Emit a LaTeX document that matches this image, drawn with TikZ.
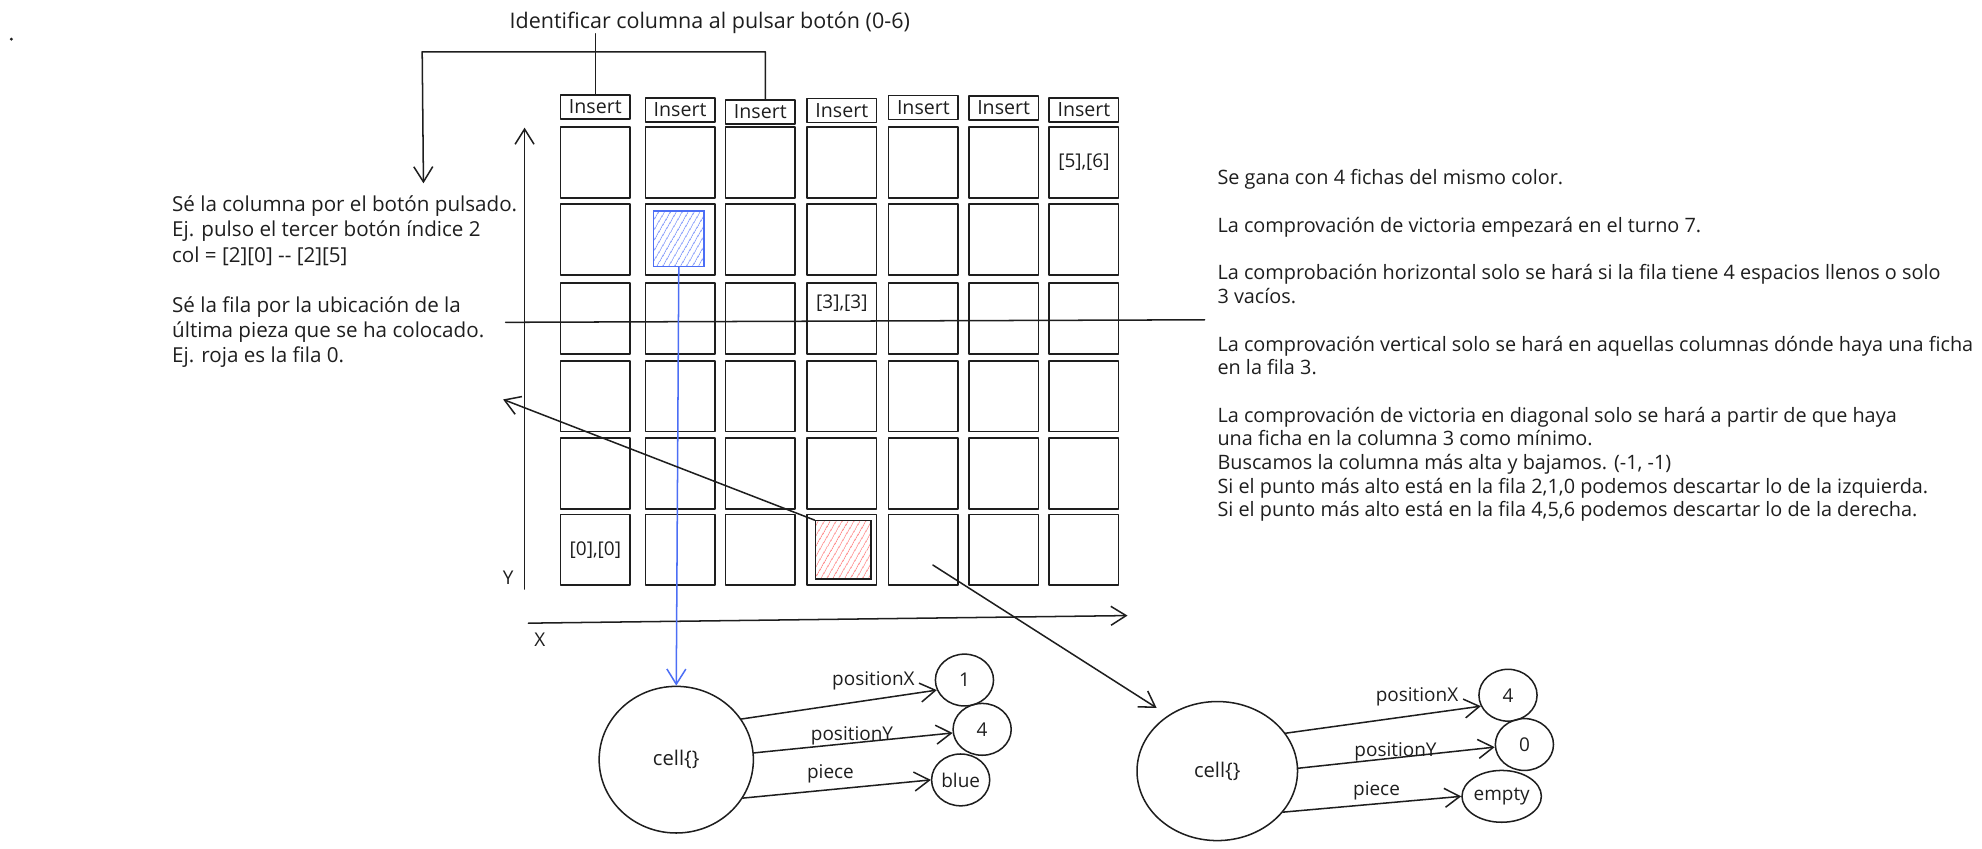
\documentclass[tikz,border=0pt]{standalone}
\usepackage{fontspec}
\setmainfont{Open Sans}
\usetikzlibrary{arrows.meta,patterns.meta,shapes.geometric}
\definecolor{ink}{HTML}{1E1E1E}
\definecolor{blueink}{HTML}{4C6EF5}
\definecolor{bluehatch}{HTML}{7D95FA}
\definecolor{redhatch}{HTML}{FF8A8A}
\begin{document}
\begin{tikzpicture}[x=1pt,y=-1pt,
  line/.style={draw=ink, line width=1.2pt, line cap=round, line join=round},
  arr/.style={line, -{Straight Barb[length=12pt,width=15pt,line width=1.2pt]}},
  cellbox/.style={line, minimum width=55pt, minimum height=56pt, inner sep=0pt},
  insbox/.style={line, minimum width=55pt, minimum height=19pt, inner sep=0pt, font=\fontsize{15.5}{16}\selectfont, text=ink},
  body/.style={font=\fontsize{15.7}{18.7}\selectfont, text=ink, inner sep=0pt, align=left},
  lbl/.style={font=\fontsize{15}{17}\selectfont, text=ink, inner sep=1pt},
  valc/.style={ellipse, line, minimum width=46pt, minimum height=41pt, inner sep=0pt, font=\fontsize{15}{17}\selectfont, text=ink},
  bigc/.style={ellipse, line, inner sep=0pt, font=\fontsize{16}{18}\selectfont, text=ink}
]
\useasboundingbox (0,0) rectangle (1568,671);

% stray dot
\fill[ink] (9,31) circle (1.3pt);

% grid and insert buttons
\foreach \x/\yy [count=\i from 0] in {471/84.5,538/87,601.5/88.5,666/87.5,730.5/85,794/85.5,857.5/87}{
  \node[insbox] (ins\i) at (\x,\yy) {Insert};
  \foreach \y [count=\j from 0] in {128.5,189.5,252,313.5,374.5,435}{
    \node[cellbox] (c\j\i) at (\x,\y) {};
  }
}
\node[lbl] (l56) at (c06) {[5],[6]};
\node[lbl] (l33) at (666,240) {[3],[3]};
\node[lbl] (l00) at (c50) {[0],[0]};

% pieces
\node[draw=blueink, line width=1pt, pattern={Lines[angle=60,distance=4pt,line width=0.7pt]}, pattern color=bluehatch,
      minimum width=40pt, minimum height=44pt, inner sep=0pt] (bluep) at (537,189) {};
\node[draw=ink, line width=1pt, pattern={Lines[angle=60,distance=4pt,line width=0.7pt]}, pattern color=redhatch,
      minimum width=44pt, minimum height=46pt, inner sep=0pt] (redp) at (667,435) {};

% axes
\coordinate (yb) at (415,466);
\coordinate (yt) at (415,101);
\draw[arr] (yb) -- (yt);
\node[lbl] (ylab) at (402,457) {Y};
\coordinate (xl) at (418,493);
\coordinate (xr) at (892,487);
\draw[arr] (xl) -- (xr);
\node[lbl] (xlab) at (427,506) {X};

% horizontal line
\coordinate (hl) at (400,255);
\coordinate (hr) at (953,253);
\draw[line] (hl) -- (hr);

% title and bracket
\node[body, anchor=west, font=\fontsize{17}{19}\selectfont] (title) at (403,18) {Identificar columna al pulsar botón (0-6)};
\draw[line] (ins0.north |- title.south) -- (ins0.north);
\coordinate (bl) at (334,41);
\coordinate (bt) at (335,145);
\draw[arr] ([xshift=4pt]ins2.north) |- (bl) -- (bt);

% left text
\node[body, anchor=north west, font=\fontsize{16.3}{19.8}\selectfont] (ltext) at (136,155)
{Sé la columna por el botón pulsado.\\
Ej. pulso el tercer botón índice 2\\
col = [2][0] {-}{-} [2][5]\\[19.8pt]
Sé la fila por la ubicación de la\\
última pieza que se ha colocado.\\
Ej. roja es la fila 0.};

% right text
\node[body, anchor=north west] (rtext) at (963,134)
{Se gana con 4 fichas del mismo color.\\[18.7pt]
La comprovación de victoria empezará en el turno 7.\\[18.7pt]
La comprobación horizontal solo se hará si la fila tiene 4 espacios llenos o solo\\
3 vacíos.\\[19.5pt]
La comprovación vertical solo se hará en aquellas columnas dónde haya una ficha\\
en la fila 3.\\[18.7pt]
La comprovación de victoria en diagonal solo se hará a partir de que haya\\
una ficha en la columna 3 como mínimo.\\
Buscamos la columna más alta y bajamos. (-1, -1)\\
Si el punto más alto está en la fila 2,1,0 podemos descartar lo de la izquierda.\\
Si el punto más alto está en la fila 4,5,6 podemos descartar lo de la derecha.};

% left cell object
\node[bigc, minimum width=122pt, minimum height=116pt] (cellA) at (535,601) {cell\{\}};
\node[valc] (v1) at (763,538) {1};
\node[valc] (v2) at (777,577) {4};
\node[valc] (v3) at (760,617) {blue};
\draw[arr] (cellA.32) -- (v1.200);
\draw[arr] (cellA.5) -- (v2.187);
\draw[arr] (cellA.-30) -- (v3.180);
\node[lbl] (a1) at (691,539) {positionX};
\node[lbl] (a2) at (674,582) {positionY};
\node[lbl] (a3) at (657,612) {piece};
\draw[arr, draw=blueink] (bluep.south) -- (cellA.north);

% right cell object
\node[bigc, minimum width=127pt, minimum height=110pt] (cellB) at (963,610) {cell\{\}};
\node[valc] (w1) at (1193,550) {4};
\node[valc] (w2) at (1206,589) {0};
\node[valc] (w3) at (1188,630) {empty};
\draw[arr] (cellB.29) -- (w1.202);
\draw[arr] (cellB.2) -- (w2.185);
\draw[arr] (cellB.-32) -- (w3.180);
\node[lbl] (b1) at (1121,551) {positionX};
\node[lbl] (b2) at (1104,595) {positionY};
\node[lbl] (b3) at (1089,626) {piece};

% diagonal arrows
\coordinate (lt) at (398,316);
\draw[arr] (redp.north west) -- (lt);
\coordinate (a2s) at (738,447);
\coordinate (a2e) at (915,560);
\draw[arr] (a2s) -- (a2e);
\end{tikzpicture}
\end{document}
